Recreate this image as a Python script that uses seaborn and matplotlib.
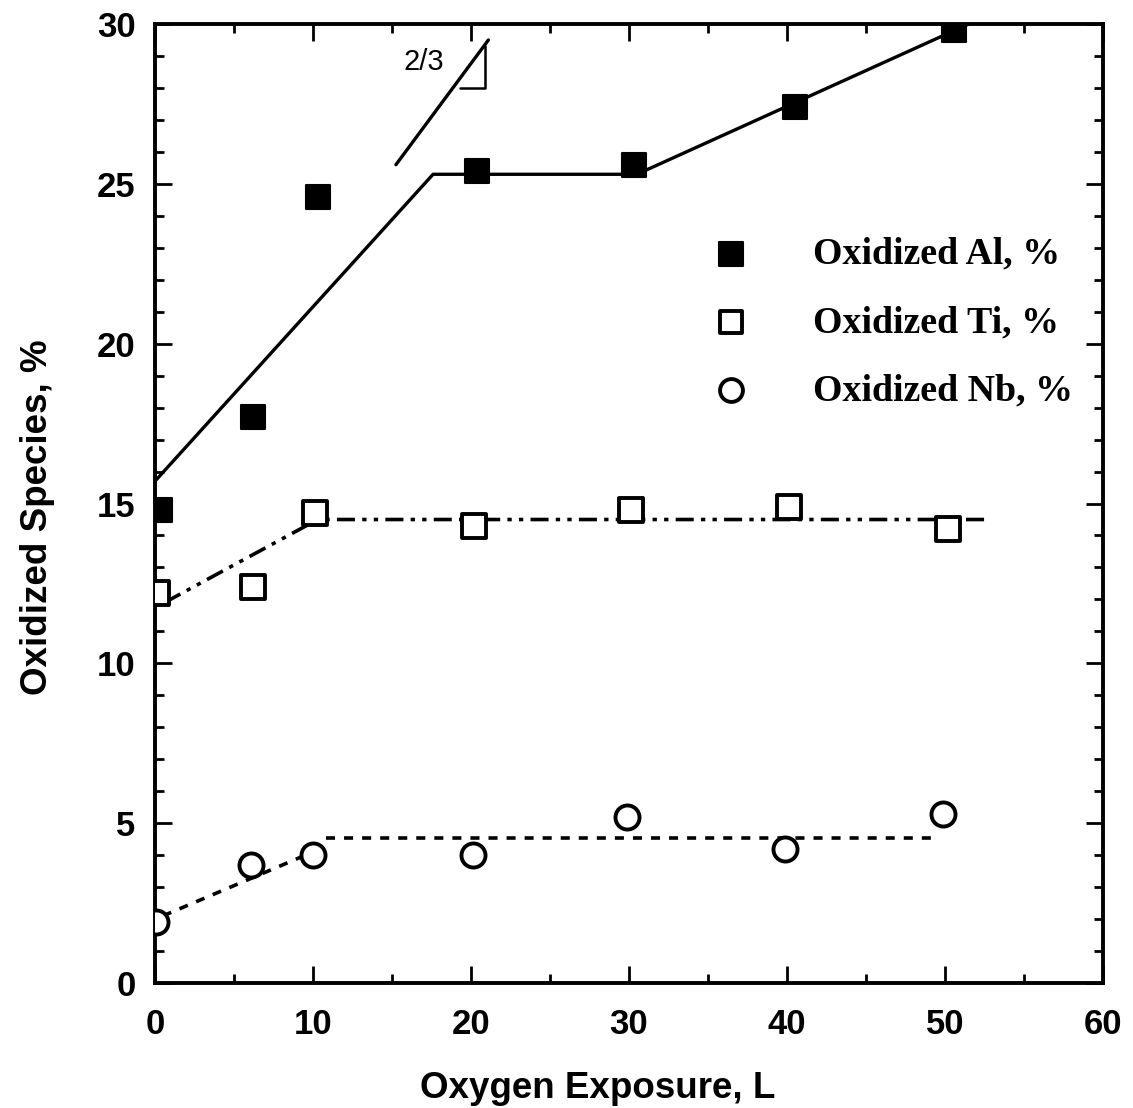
import numpy as np
import pandas as pd
import matplotlib
matplotlib.use("Agg")
import matplotlib.pyplot as plt
import seaborn as sns
from matplotlib.ticker import MultipleLocator

# ---- data ----
al_x = [0.3, 6.2, 10.3, 20.4, 30.3, 40.5, 50.6]
al_y = [14.8, 17.7, 24.6, 25.4, 25.6, 27.4, 29.8]
ti_x = [0.1, 6.2, 10.1, 20.2, 30.1, 40.1, 50.2]
ti_y = [12.2, 12.4, 14.7, 14.3, 14.8, 14.9, 14.2]
nb_x = [0.05, 6.1, 10.0, 20.1, 29.9, 39.9, 49.9]
nb_y = [1.9, 3.7, 4.0, 4.0, 5.2, 4.2, 5.3]

# piecewise trend lines (knots)
al_fit_x = [0.0, 17.6, 30.5, 51.5]
al_fit_y = [15.7, 25.3, 25.3, 30.0]
ti_fit_x = [0.6, 10.3, 52.5]
ti_fit_y = [11.9, 14.5, 14.5]
nb_fit1_x = [0.5, 10.0]
nb_fit1_y = [2.1, 4.1]
nb_fit2_x = [10.8, 49.4]
nb_fit2_y = [4.55, 4.55]

# slope indicator
slope_x = [15.25, 21.1]
slope_y = [25.6, 29.5]
tri_x = [19.3, 20.9, 20.9]
tri_y = [28.0, 28.0, 29.3]

labels = ["Oxidized Al, %", "Oxidized Ti, %", "Oxidized Nb, %"]

sns.set_theme(style="white")
plt.rcParams['font.family'] = ['Liberation Sans', 'DejaVu Sans']
plt.rcParams['text.color'] = 'black'
plt.rcParams['axes.labelcolor'] = 'black'
plt.rcParams['xtick.color'] = 'black'
plt.rcParams['ytick.color'] = 'black'

fig = plt.figure(figsize=(11.33, 11.08), dpi=100)
ax = fig.add_axes([0.1368, 0.1128, 0.9735 - 0.1368, 0.9783 - 0.1128])

# trend lines
sns.lineplot(x=al_fit_x, y=al_fit_y, sort=False, color="black", lw=2.4, ax=ax)
ax.plot(ti_fit_x, ti_fit_y, color="black", lw=2.6, dashes=[5, 2, 1.2, 2, 1.2, 2])
ax.plot(nb_fit1_x, nb_fit1_y, color="black", lw=2.6, dashes=[2.5, 2.5])
ax.plot(nb_fit2_x, nb_fit2_y, color="black", lw=2.6, dashes=[2.5, 2.5])

# slope indicator
ax.plot(slope_x, slope_y, color="black", lw=2.4, solid_capstyle="round")
ax.plot(tri_x, tri_y, color="black", lw=1.8)
ax.text(17.0, 28.8, "2/3", fontsize=21, ha="center", va="center", color="black")

# points
h_al = ax.scatter(al_x, al_y, marker="s", s=320, facecolor="black",
                  edgecolor="black", lw=1.5, zorder=5, label=labels[0])
h_ti = ax.scatter(ti_x, ti_y, marker="s", s=300, facecolor="white",
                  edgecolor="black", lw=2.8, zorder=5, label=labels[1])
h_nb = ax.scatter(nb_x, nb_y, marker="o", s=300, facecolor="white",
                  edgecolor="black", lw=2.8, zorder=5, label=labels[2])

ax.set_xlim(0, 60)
ax.set_ylim(0, 30)
ax.xaxis.set_major_locator(MultipleLocator(10))
ax.xaxis.set_minor_locator(MultipleLocator(5))
ax.yaxis.set_major_locator(MultipleLocator(5))
ax.yaxis.set_minor_locator(MultipleLocator(1))
ax.tick_params(which="both", direction="in", top=True, right=True,
               bottom=True, left=True, color="black", width=2)
ax.tick_params(which="major", length=12, labelsize=25)
ax.tick_params(axis="x", which="major", pad=18)
ax.tick_params(axis="y", which="major", pad=14)
ax.tick_params(which="minor", length=6.5)
for lab in ax.get_xticklabels() + ax.get_yticklabels():
    lab.set_fontweight("bold")
for sp in ax.spines.values():
    sp.set_color("black")
    sp.set_linewidth(2.8)

ax.set_xlabel("Oxygen Exposure, L", fontsize=26.5, fontweight="bold")
ax.set_ylabel("Oxidized Species, %", fontsize=26.5, fontweight="bold")
ax.xaxis.set_label_coords(0.467, -0.092)
ax.yaxis.set_label_coords(-0.106, 0.486)

leg = ax.legend(handles=[h_al, h_ti, h_nb], loc="upper left",
                bbox_to_anchor=(0.548, 0.798), frameon=False, borderpad=0,
                prop={"family": "Liberation Serif", "weight": "bold", "size": 27.3},
                labelspacing=0.88, handletextpad=1.15, markerscale=0.95)

fig.savefig("out.png", dpi=100)
